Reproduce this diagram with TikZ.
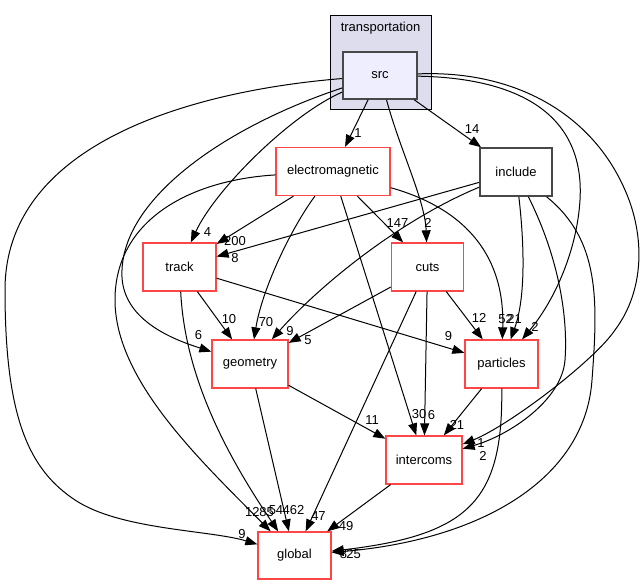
\documentclass[tikz,border=0pt]{standalone}
\usepackage{fontspec}
\setmainfont{Liberation Sans}
\definecolor{ClusterFill}{RGB}{221,221,238}
\definecolor{SrcFill}{RGB}{238,238,255}
\definecolor{DirRed}{RGB}{255,70,70}
\definecolor{DirGray}{RGB}{72,72,72}
\usetikzlibrary{arrows.meta,calc}

\begin{document}
\begin{tikzpicture}[x=1pt,y=-1pt,
    dirbox/.style={draw=DirRed,line width=1.3pt,fill=white,minimum width=73pt,minimum height=48pt,inner sep=0pt,font=\fontsize{13}{13}\selectfont},
    dep/.style={line width=1pt,-{Triangle[length=12pt,width=9pt]}},
    cnt/.style={inner sep=0pt,font=\fontsize{13}{13}\selectfont}]
  \useasboundingbox[fill=white] (0,0) rectangle (641,585);

  % cluster transportation
  \draw[fill=ClusterFill,line width=1pt] (330,16) rectangle (431,110);
  \node[cnt] (ttl) at (380.5,28) {transportation};
  \node[dirbox,draw=DirGray,fill=SrcFill,line width=1.6pt,minimum width=74pt,minimum height=47pt] (src) at (380,75.5) {src};

  % directories
  \node[dirbox,minimum width=114pt] (em) at (333,171.5) {electromagnetic};
  \node[dirbox,draw=DirGray,line width=1.6pt,minimum width=72pt] (inc) at (516,172) {include};
  \node[dirbox] (track) at (179.5,267) {track};
  \node[dirbox,minimum width=72pt] (cuts) at (427.5,267) {cuts};
  \node[dirbox,minimum width=76pt] (geo) at (250,364) {geometry};
  \node[dirbox] (part) at (501.5,364) {particles};
  \node[dirbox,minimum width=76pt] (icom) at (424,460) {intercoms};
  \node[dirbox,minimum height=47pt] (glob) at (294.5,555.5) {global};

  % src
  \draw[dep] (src) -- (em);
  \draw[dep] (src) -- (inc);
  \draw[dep] (src) .. controls (290,115) and (215,190) .. (track);
  \draw[dep] (src) .. controls (400,150) and (425,200) .. (cuts);
  \draw[dep] (src) .. controls (230,125) and (125,195) .. (122,270) .. controls (119,320) and (175,340) .. (geo);
  \draw[dep] (src) .. controls (200,90) and (5,140) .. (5,290) .. controls (5,420) and (30,470) .. (75,500) .. controls (120,530) and (210,530) .. (glob);
  \draw[dep] (src) .. controls (520,78) and (585,115) .. (580,200) .. controls (577,250) and (555,300) .. (part);
  \draw[dep] (src) .. controls (510,70) and (590,110) .. (625,190) .. controls (645,235) and (645,290) .. (615,330) .. controls (595,360) and (510,425) .. (icom);

  % electromagnetic
  \draw[dep] (em) -- (track);
  \draw[dep] (em) .. controls (290,230) and (262,290) .. (geo);
  \draw[dep] (em) -- (cuts);
  \draw[dep] (em) .. controls (470,210) and (505,260) .. (part);
  \draw[dep] (em) -- (icom);
  \draw[dep] (em) .. controls (190,180) and (115,220) .. (115,300) .. controls (115,380) and (200,460) .. (glob);

  % include
  \draw[dep] (inc) -- (track);
  \draw[dep] (inc) .. controls (400,220) and (320,285) .. (geo);
  \draw[dep] (inc) .. controls (525,250) and (525,300) .. (part);
  \draw[dep] (inc) .. controls (560,260) and (568,320) .. (565,360) .. controls (562,400) and (510,435) .. (icom);
  \draw[dep] (inc) .. controls (600,240) and (598,300) .. (592,380) .. controls (585,480) and (480,540) .. (glob);

  % track, cuts, geometry, particles, intercoms
  \draw[dep] (track) -- (geo);
  \draw[dep] (track) -- (part);
  \draw[dep] (track) .. controls (185,380) and (230,460) .. (glob);
  \draw[dep] (cuts) -- (geo);
  \draw[dep] (cuts) -- (part);
  \draw[dep] (cuts) -- (icom);
  \draw[dep] (cuts) -- (glob);
  \draw[dep] (geo) -- (icom);
  \draw[dep] (geo) -- (glob);
  \draw[dep] (part) -- (icom);
  \draw[dep] (part) .. controls (503,500) and (470,535) .. (glob);
  \draw[dep] (icom) -- (glob);

  % edge counts
  \foreach \nm/\px/\py/\txt in {
      l1/358/133/1, l2/472/129/14, l3/207.5/232/4, l4/428/223/2,
      l5/198.5/335/6, l6/242/534/9, l7/535/327/2, l8/483/456/2,
      l9/235/241.5/200, l10/266/322/70, l11/397.5/223/147, l12/505.5/319/52,
      l13/419/414.5/30, l14/259.5/512/1285,
      l15/235/258/8, l16/290/331/9, l17/514.5/319/21, l18/481/443.5/1, l19/353.5/554/25,
      l20/229/319.5/10, l21/448.5/336/9, l22/276/510/54,
      l23/308/340/5, l24/479/318/12, l25/431.5/415.5/6, l26/318.5/516/47,
      l27/372/420.5/11, l28/293.5/510/462, l29/457/425/21, l30/343.5/554/8,
      l31/346/526/49}
    \node[cnt] (\nm) at (\px,\py) {\txt};
\end{tikzpicture}
\end{document}
